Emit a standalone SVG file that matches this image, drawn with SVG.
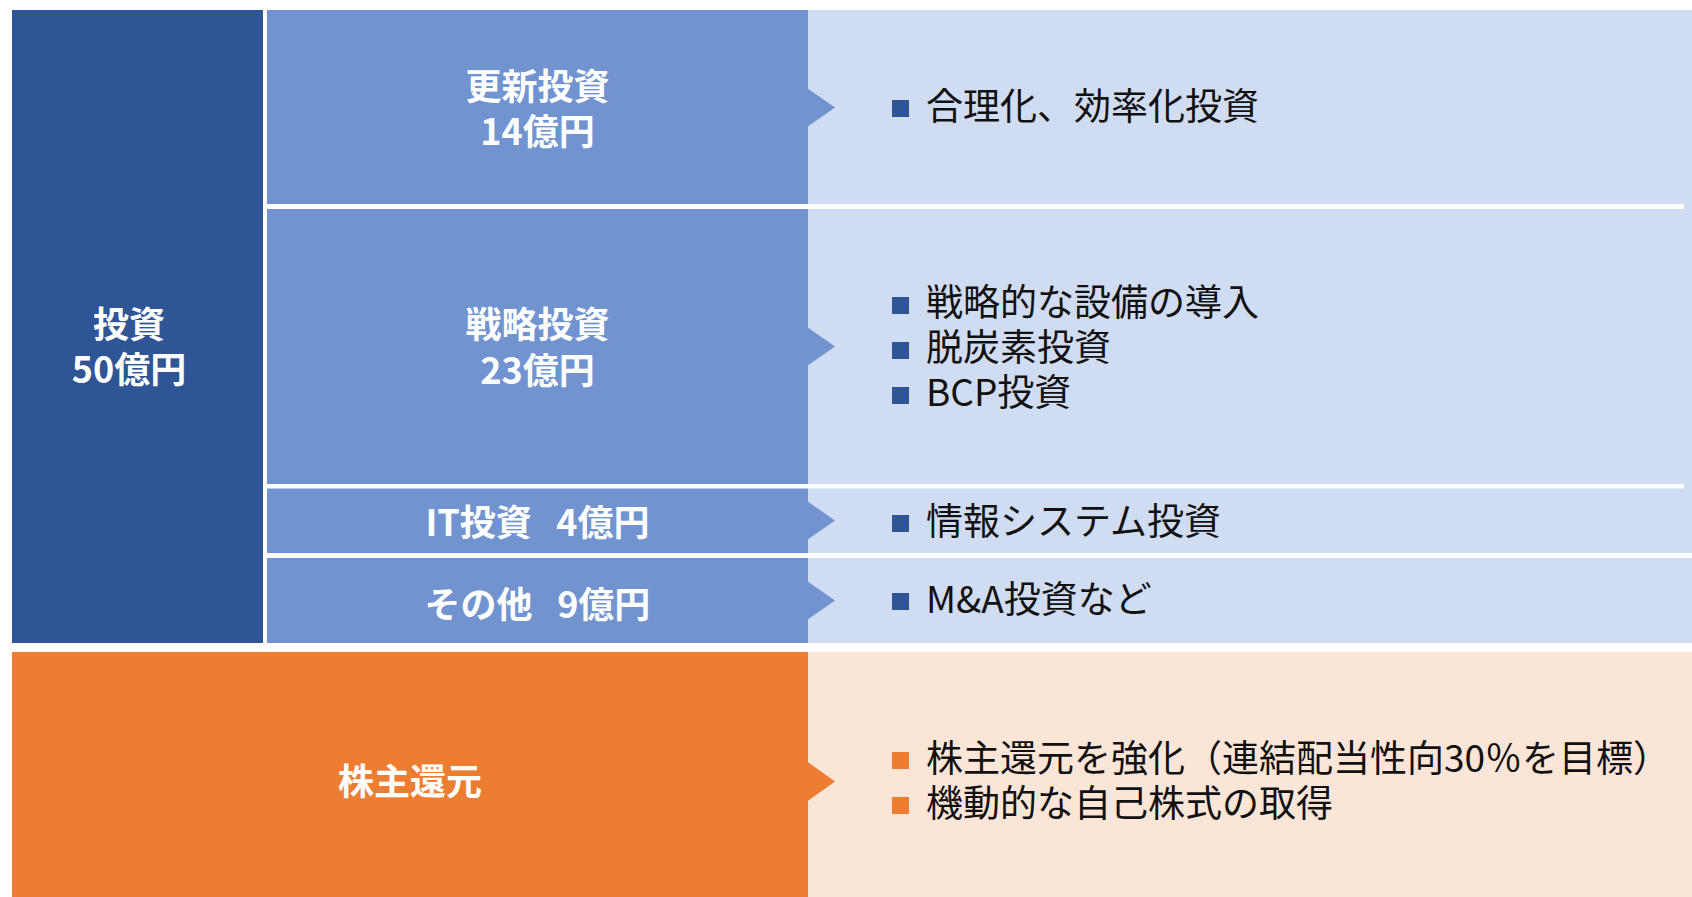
<svg xmlns="http://www.w3.org/2000/svg" width="1692" height="897" viewBox="0 0 1692 897">
<style>
.dark{fill:#2F5597}
.mid{fill:#7194D1}
.light{fill:#CFDCF1}
.orange{fill:#ED7D31}
.peach{fill:#FBE5D6}
.sep{fill:#FFFFFF}
.hd{font-family:"Noto Sans CJK JP","Noto Sans",sans-serif;font-weight:bold;font-size:36px;fill:#FFFFFF;text-anchor:middle;white-space:pre}
.it{font-family:"Noto Sans CJK JP","Noto Sans",sans-serif;font-size:37px;fill:#111111}
.bb{fill:#2F5597}
.bo{fill:#ED7D31}
</style>
<rect x="0" y="0" width="1692" height="897" fill="#FFFFFF"/>

<g id="panel-invest-details">
<rect class="light" x="808" y="10" width="884" height="633"/>
<rect class="sep" x="808" y="204" width="876" height="5"/>
<rect class="sep" x="808" y="484" width="876" height="4.5"/>
<rect class="sep" x="808" y="553" width="884" height="5"/>
</g>

<g id="node-invest">
<rect class="dark" x="12" y="10" width="251" height="633"/>
<text class="hd" x="129" y="338">投資<tspan x="129" dy="45">50億円</tspan></text>
</g>

<g id="node-renewal">
<rect class="mid" x="267" y="10" width="541" height="194"/>
<text class="hd" x="537.5" y="100">更新投資<tspan x="537.5" dy="45">14億円</tspan></text>
</g>

<g id="node-strategic">
<rect class="mid" x="267" y="209" width="541" height="275"/>
<text class="hd" x="537.5" y="338">戦略投資<tspan x="537.5" dy="46">23億円</tspan></text>
</g>

<g id="node-it">
<rect class="mid" x="267" y="488.5" width="541" height="64.5"/>
<text class="hd" x="537.5" y="535.5">IT投資   4億円</text>
</g>

<g id="node-other">
<rect class="mid" x="267" y="558" width="541" height="85"/>
<text class="hd" x="537.5" y="617.5">その他   9億円</text>
</g>

<g id="node-shareholder">
<rect class="orange" x="12" y="652" width="796" height="245"/>
<text class="hd" x="410" y="795">株主還元</text>
</g>

<g id="node-shareholder-details">
<rect class="peach" x="808" y="652" width="884" height="245"/>
<rect class="bo" x="892" y="752" width="17" height="17"/>
<rect class="bo" x="892" y="797" width="17" height="17"/>
<text class="it" x="926" y="772">株主還元を強化（連結配当性向30％を目標）<tspan x="926" dy="45">機動的な自己株式の取得</tspan></text>
</g>

<g id="node-renewal-details">
<rect class="bb" x="892" y="100" width="17" height="17"/>
<text class="it" x="926" y="120">合理化、効率化投資</text>
</g>

<g id="node-strategic-details">
<rect class="bb" x="892" y="297" width="17" height="17"/>
<rect class="bb" x="892" y="342" width="17" height="17"/>
<rect class="bb" x="892" y="387" width="17" height="17"/>
<text class="it" x="926" y="316">戦略的な設備の導入<tspan x="926" dy="45">脱炭素投資</tspan><tspan x="926" dy="45">BCP投資</tspan></text>
</g>

<g id="node-it-details">
<rect class="bb" x="892" y="515" width="17" height="17"/>
<text class="it" x="926" y="535">情報システム投資</text>
</g>

<g id="node-other-details">
<rect class="bb" x="892" y="593" width="17" height="17"/>
<text class="it" x="926" y="613">M&amp;A投資など</text>
</g>

<g id="connectors">
<polygon class="mid" points="807,88 835,107.5 807,127"/>
<polygon class="mid" points="807,327 835,346.5 807,366"/>
<polygon class="mid" points="807,501 835,520.5 807,540"/>
<polygon class="mid" points="807,581 835,600.5 807,620"/>
<polygon class="orange" points="807,761.5 835,781.5 807,801.5"/>
</g>
</svg>
